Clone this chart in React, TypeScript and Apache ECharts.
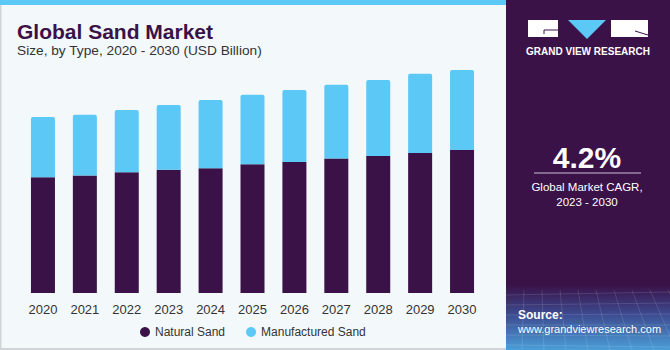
import React, { useEffect, useRef } from "react";
import * as echarts from "echarts";

const years = ["2020", "2021", "2022", "2023", "2024", "2025", "2026", "2027", "2028", "2029", "2030"];
const naturalSand = [47.6, 48.4, 49.7, 50.7, 51.3, 53.0, 53.9, 55.3, 56.4, 57.6, 58.8];
const manufacturedSand = [24.8, 25.0, 25.6, 26.7, 28.1, 28.6, 29.6, 30.4, 31.3, 32.6, 33.0];
const seriesNames = ["Natural Sand", "Manufactured Sand"];
const titleText = "Global Sand Market";
const subtitleText = "Size, by Type, 2020 - 2030 (USD Billion)";
const cagrText = "4.2%";
const cagrLabel1 = "Global Market CAGR,";
const cagrLabel2 = "2023 - 2030";

const PURPLE = "#3a1248";
const BLUE = "#5bc8f5";
const FONT = "Liberation Sans, Arial, sans-serif";

export default function App() {
  const ref = useRef<HTMLDivElement>(null);
  useEffect(() => {
    if (!ref.current) return;
    const chart = echarts.init(ref.current, null, { renderer: "svg" });
    const gridLines: any[] = [];
    for (let i = 0; i < 10; i++) {
      gridLines.push({
        type: "line",
        shape: { x1: 506 + i * 18, y1: 290, x2: 500 + i * 22, y2: 350 },
        style: { stroke: "rgba(255,255,255,0.12)", lineWidth: 1 },
        silent: true,
      });
    }
    for (let j = 0; j < 6; j++) {
      gridLines.push({
        type: "line",
        shape: { x1: 506, y1: 295 + j * 10, x2: 670, y2: 292 + j * 11 },
        style: { stroke: "rgba(255,255,255,0.12)", lineWidth: 1 },
        silent: true,
      });
    }
    chart.setOption({
      animation: false,
      backgroundColor: "#f3f8fb",
      textStyle: { fontFamily: FONT },
      graphic: [
        { type: "rect", shape: { x: 0, y: 0, width: 506, height: 5 }, style: { fill: BLUE }, silent: true },
        { type: "rect", shape: { x: 0, y: 5, width: 1.5, height: 345 }, style: { fill: "#d0d4d8" }, silent: true },
        { type: "rect", shape: { x: 0, y: 348, width: 506, height: 2 }, style: { fill: "#d0d4d8" }, silent: true },
        { type: "rect", shape: { x: 506, y: 0, width: 164, height: 350 }, style: { fill: PURPLE }, silent: true },
        {
          type: "rect",
          shape: { x: 506, y: 285, width: 164, height: 65 },
          style: {
            fill: new echarts.graphic.LinearGradient(0, 0, 0, 1, [
              { offset: 0, color: PURPLE },
              { offset: 0.45, color: "#3d4a8f" },
              { offset: 1, color: "#4a9ed8" },
            ]),
          },
          silent: true,
        },
        ...gridLines,
        { type: "rect", shape: { x: 528, y: 20, width: 30, height: 17 }, style: { fill: "#ffffff", stroke: "none" }, silent: true },
        { type: "line", shape: { x1: 544, y1: 30, x2: 558, y2: 30 }, style: { stroke: PURPLE, lineWidth: 1 }, silent: true },
        { type: "line", shape: { x1: 544, y1: 30, x2: 544, y2: 34 }, style: { stroke: PURPLE, lineWidth: 1 }, silent: true },
        { type: "polygon", shape: { points: [[568, 20], [606, 20], [587, 39]] }, style: { fill: BLUE }, silent: true },
        { type: "rect", shape: { x: 611, y: 20, width: 37, height: 17 }, style: { fill: "#ffffff", stroke: "none" }, silent: true },
        { type: "line", shape: { x1: 635, y1: 31, x2: 648, y2: 35 }, style: { stroke: PURPLE, lineWidth: 1 }, silent: true },
        {
          type: "text",
          x: 588,
          y: 51,
          style: { text: "GRAND VIEW RESEARCH", fill: "#ffffff", font: "bold 10px " + FONT, align: "center", verticalAlign: "middle" },
          silent: true,
        },
        {
          type: "text",
          x: 17,
          y: 31,
          style: { text: titleText, fill: PURPLE, font: "bold 21px " + FONT, verticalAlign: "middle" },
          silent: true,
        },
        {
          type: "text",
          x: 17,
          y: 50,
          style: { text: subtitleText, fill: "#333333", font: "13.7px " + FONT, verticalAlign: "middle" },
          silent: true,
        },
        {
          type: "text",
          x: 587,
          y: 157,
          style: { text: cagrText, fill: "#ffffff", font: "bold 30px " + FONT, align: "center", verticalAlign: "middle" },
          silent: true,
        },
        { type: "line", shape: { x1: 534, y1: 173, x2: 641, y2: 173 }, style: { stroke: "#c9bfd0", lineWidth: 1 }, silent: true },
        {
          type: "text",
          x: 587,
          y: 187,
          style: { text: cagrLabel1, fill: "#ffffff", font: "11.5px " + FONT, align: "center", verticalAlign: "middle" },
          silent: true,
        },
        {
          type: "text",
          x: 587,
          y: 202,
          style: { text: cagrLabel2, fill: "#ffffff", font: "11.5px " + FONT, align: "center", verticalAlign: "middle" },
          silent: true,
        },
        {
          type: "text",
          x: 518,
          y: 315,
          style: { text: "Source:", fill: "#ffffff", font: "bold 12px " + FONT, verticalAlign: "middle" },
          silent: true,
        },
        {
          type: "text",
          x: 518,
          y: 329,
          style: { text: "www.grandviewresearch.com", fill: "#ffffff", font: "11px " + FONT, verticalAlign: "middle" },
          silent: true,
        },
      ],
      legend: {
        data: seriesNames,
        left: 135,
        top: 321,
        icon: "circle",
        itemWidth: 10,
        itemHeight: 10,
        itemGap: 21,
        textStyle: { fontSize: 12, color: "#333333", fontFamily: FONT },
      },
      grid: { left: 22, width: 461, top: 50, height: 243, containLabel: false },
      xAxis: {
        type: "category",
        data: years,
        axisLine: { show: false },
        axisTick: { show: false },
        axisLabel: { fontSize: 13, color: "#333333", margin: 10, fontFamily: FONT },
      },
      yAxis: {
        type: "value",
        min: 0,
        max: 100,
        show: false,
        splitLine: { show: false },
      },
      series: [
        {
          name: seriesNames[0],
          type: "bar",
          stack: "total",
          data: naturalSand,
          barWidth: 24,
          itemStyle: { color: PURPLE },
        },
        {
          name: seriesNames[1],
          type: "bar",
          stack: "total",
          data: manufacturedSand,
          barWidth: 24,
          itemStyle: { color: BLUE, borderRadius: [2, 2, 0, 0] },
        },
      ],
    });
    return () => chart.dispose();
  }, []);
  return <div ref={ref} style={{ position: "fixed", left: 0, top: 0, width: 670, height: 350 }} />;
}
